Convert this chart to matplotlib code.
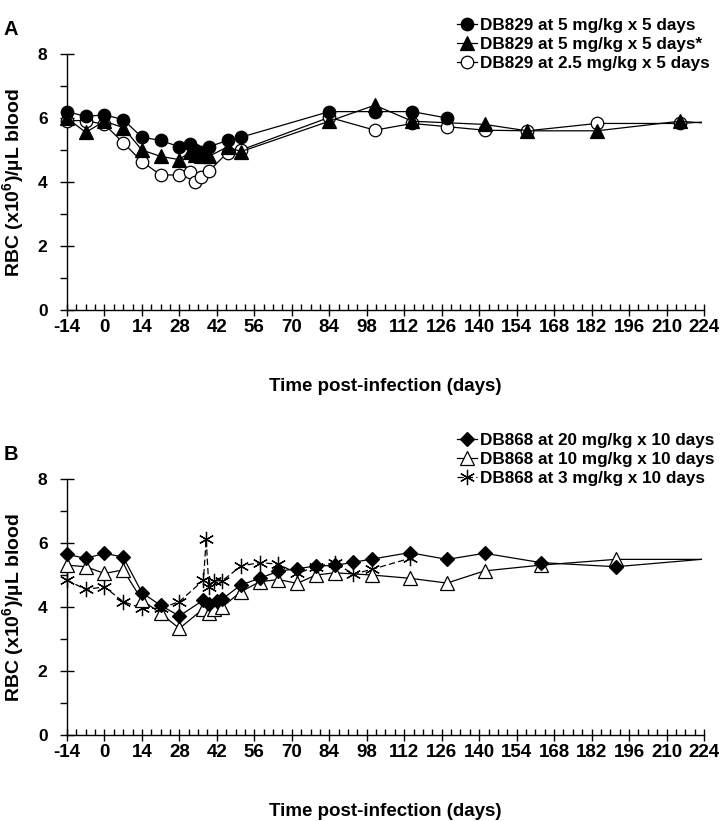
import matplotlib
matplotlib.use('Agg')
import matplotlib.pyplot as plt
from matplotlib.ticker import MultipleLocator, FixedLocator

plt.rcParams['font.family'] = ['Liberation Sans', 'DejaVu Sans']
plt.rcParams['font.weight'] = 'bold'
plt.rcParams['mathtext.fontset'] = 'custom'
plt.rcParams['mathtext.bf'] = 'Liberation Sans:bold'
plt.rcParams['mathtext.rm'] = 'Liberation Sans:bold'

# panel A: DB829
a_labels = ["DB829 at 5 mg/kg x 5 days", "DB829 at 5 mg/kg x 5 days*", "DB829 at 2.5 mg/kg x 5 days"]
a1_days = [-14, -7, 0, 7, 14, 21, 28, 32, 34, 36, 39, 46, 51, 84, 101, 115, 128]
a1_rbc = [6.2, 6.05, 6.1, 5.95, 5.4, 5.3, 5.1, 5.2, 5.0, 4.95, 5.1, 5.3, 5.4, 6.2, 6.2, 6.2, 6.0]
a2_days = [-14, -7, 0, 7, 14, 21, 28, 32, 34, 36, 39, 46, 51, 84, 101, 115, 142, 158, 184, 215, 223]
a2_rbc = [6.0, 5.55, 5.9, 5.7, 5.0, 4.8, 4.7, 4.95, 4.85, 4.8, 4.8, 5.1, 4.95, 5.9, 6.4, 5.9, 5.8, 5.6, 5.6, 5.9, 5.85]
a3_days = [-14, -7, 0, 7, 14, 21, 28, 32, 34, 36, 39, 46, 51, 84, 101, 115, 128, 142, 158, 184, 215, 223]
a3_rbc = [5.92, 5.92, 5.8, 5.23, 4.64, 4.22, 4.22, 4.3, 4.0, 4.17, 4.34, 4.92, 5.0, 6.02, 5.62, 5.83, 5.73, 5.62, 5.6, 5.83, 5.83, 5.87]

# panel B: DB868
b_labels = ["DB868 at 20 mg/kg x 10 days", "DB868 at 10 mg/kg x 10 days", "DB868 at 3 mg/kg x 10 days"]
b1_days = [-14, -7, 0, 7, 14, 21, 28, 37, 39, 42, 44, 51, 58, 65, 72, 79, 86, 93, 100, 114, 128, 142, 163, 191, 223]
b1_rbc = [5.65, 5.52, 5.68, 5.56, 4.45, 4.05, 3.72, 4.22, 4.08, 4.19, 4.25, 4.69, 4.9, 5.12, 5.2, 5.28, 5.3, 5.4, 5.5, 5.7, 5.49, 5.68, 5.39, 5.26, 5.49]
b2_days = [-14, -7, 0, 7, 14, 21, 28, 37, 39, 41, 44, 51, 58, 65, 72, 79, 86, 100, 114, 128, 142, 163, 191, 223]
b2_rbc = [5.31, 5.26, 5.05, 5.16, 4.22, 3.8, 3.33, 3.95, 3.8, 3.95, 4.0, 4.48, 4.79, 4.86, 4.74, 5.0, 5.07, 5.0, 4.9, 4.75, 5.13, 5.31, 5.49, 5.49]
b3_days = [-14, -7, 0, 7, 14, 21, 28, 37, 38, 39, 41, 44, 51, 58, 65, 72, 79, 86, 93, 100, 114]
b3_rbc = [4.84, 4.55, 4.63, 4.17, 3.96, 3.96, 4.17, 4.84, 6.13, 4.63, 4.82, 4.82, 5.28, 5.39, 5.34, 5.05, 5.26, 5.39, 5.03, 5.18, 5.52]

x_ticks = list(range(-14, 225, 14))

narrow = ['Liberation Sans Narrow', 'Liberation Sans']


def style_axes(ax):
    ax.set_xlim(-14, 224)
    ax.set_ylim(0, 8)
    for side in ['top', 'right']:
        ax.spines[side].set_visible(False)
    ax.spines['left'].set_linewidth(1.0)
    ax.spines['bottom'].set_linewidth(1.0)
    ax.xaxis.set_major_locator(FixedLocator(x_ticks))
    ax.xaxis.set_minor_locator(MultipleLocator(3.5))
    ax.yaxis.set_major_locator(MultipleLocator(2))
    ax.yaxis.set_minor_locator(MultipleLocator(1))
    ax.tick_params(axis='x', which='major', direction='inout', length=9, width=1, pad=2)
    ax.tick_params(axis='x', which='minor', direction='in', length=4, width=1)
    ax.tick_params(axis='y', which='major', direction='inout', length=10, width=1, labelsize=12.5, pad=9)
    ax.tick_params(axis='y', which='minor', direction='out', length=5, width=1)
    ax.set_xticklabels([str(t) for t in x_ticks], fontsize=13.5, family=narrow, fontweight='bold')
    for lab in ax.get_yticklabels():
        lab.set_fontweight('bold')
    ax.set_xlabel('Time post-infection (days)', fontsize=13.5, family=narrow, fontweight='bold', labelpad=30)
    ax.set_ylabel('RBC (x10$^{\\mathbf{6}}$)/µL blood', fontsize=14, fontweight='bold', labelpad=8)


def draw(ax, days, rbc, **kw):
    ax.plot(days, rbc, color='black', lw=0.9, mec='black', mew=0.9, clip_on=False,
            markevery=slice(0, len(days) - 1) if days[-1] == 223 else None, **kw)


fig = plt.figure(figsize=(7.21, 8.21), dpi=100)
axA = fig.add_axes([0.0929, 0.6224, 0.8835, 0.3118])
axB = fig.add_axes([0.0929, 0.1047, 0.8835, 0.3118])

draw(axA, a3_days, a3_rbc, marker='o', ms=9, mfc='white', zorder=3)
draw(axA, a2_days, a2_rbc, marker='^', ms=9.5, mfc='black', zorder=4)
draw(axA, a1_days, a1_rbc, marker='o', ms=9, mfc='black', zorder=5)

draw(axB, b3_days, b3_rbc, marker=(6, 2, 0), ms=11, mfc='none', ls=(0, (5, 2.5)), zorder=3)
draw(axB, b2_days, b2_rbc, marker='^', ms=10, mfc='white', zorder=4)
draw(axB, b1_days, b1_rbc, marker='D', ms=7.5, mfc='black', zorder=5)

style_axes(axA)
style_axes(axB)

# legends sit above the plot area, upper right
leg_kw = dict(loc='upper left', bbox_transform=fig.transFigure, frameon=False, handlelength=1.2,
              handletextpad=0.2, labelspacing=0.22, borderpad=0.1, prop={'weight': 'bold', 'size': 12.3})
hA = axA.get_lines()
axA.legend([hA[2], hA[1], hA[0]], a_labels, bbox_to_anchor=(0.619, 0.990), **leg_kw)
hB = axB.get_lines()
axB.legend([hB[2], hB[1], hB[0]], b_labels, bbox_to_anchor=(0.619, 0.485), **leg_kw)

fig.text(0.005, 0.9635, 'A', fontsize=14.5, fontweight='bold', va='center')
fig.text(0.005, 0.446, 'B', fontsize=14.5, fontweight='bold', va='center')

fig.savefig('out.png', dpi=100)
